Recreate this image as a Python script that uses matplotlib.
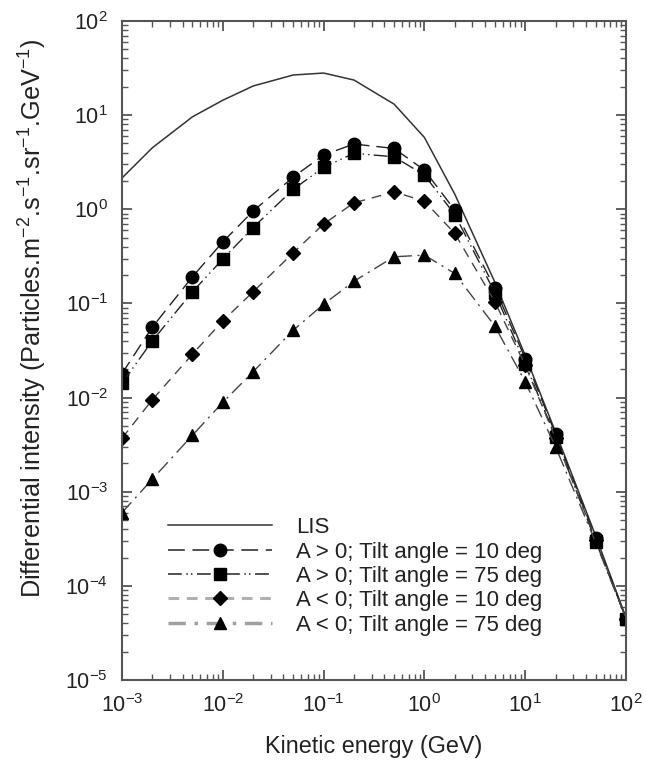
import matplotlib
matplotlib.use("Agg")
import matplotlib.pyplot as plt
from matplotlib.lines import Line2D
from matplotlib.ticker import LogLocator, NullFormatter

plt.rcParams['font.family'] = ['Liberation Sans', 'DejaVu Sans']
plt.rcParams['mathtext.fontset'] = 'custom'
plt.rcParams['mathtext.rm'] = 'Liberation Sans'
plt.rcParams['mathtext.it'] = 'Liberation Sans:italic'
plt.rcParams['mathtext.bf'] = 'Liberation Sans:bold'

# ---- data ----
energy = [0.001, 0.002, 0.005, 0.01, 0.02, 0.05, 0.1, 0.2, 0.5, 1, 2, 5, 10, 20, 50, 100]
lis = [2.15, 4.5, 9.6, 14.4, 20.4, 26.7, 28.0, 23.6, 13.1, 5.8, 1.45, 0.168, 0.028, 0.0043, 3.4e-4, 4.6e-5]
apos_10 = [0.018, 0.056, 0.192, 0.45, 0.957, 2.2, 3.77, 4.93, 4.43, 2.61, 0.98, 0.146, 0.026, 0.0041, 3.2e-4, 4.5e-5]
apos_75 = [0.0142, 0.040, 0.133, 0.296, 0.64, 1.63, 2.79, 3.93, 3.61, 2.31, 0.88, 0.13, 0.023, 0.0038, 3.0e-4, 4.5e-5]
aneg_10 = [0.0037, 0.0095, 0.0289, 0.0653, 0.133, 0.345, 0.697, 1.17, 1.53, 1.22, 0.555, 0.104, 0.022, 0.0037, 3.1e-4, 4.5e-5]
aneg_75 = [6.0e-4, 1.36e-3, 3.98e-3, 8.9e-3, 0.0188, 0.052, 0.098, 0.172, 0.313, 0.326, 0.208, 0.0574, 0.0147, 0.0030, 2.9e-4, 4.5e-5]
labels = ["LIS", "A > 0; Tilt angle = 10 deg", "A > 0; Tilt angle = 75 deg",
          "A < 0; Tilt angle = 10 deg", "A < 0; Tilt angle = 75 deg"]

W, H = 646, 773
fig = plt.figure(figsize=(W / 100, H / 100), dpi=100)
ax = fig.add_axes([122 / W, 1 - 680 / H, (626 - 122) / W, (680 - 21) / H])

ink = '#222222'
ax.plot(energy, lis, color='#333333', lw=1.1, ls='-')
ax.plot(energy, apos_10, color='#222222', lw=1.0, ls=(0, (10, 5)), marker='o', ms=9, mfc='black', mec='black')
ax.plot(energy, apos_75, color='#222222', lw=1.0, ls=(0, (10, 3, 1, 3, 1, 3)), marker='s', ms=8, mfc='black', mec='black')
ax.plot(energy, aneg_10, color='#444444', lw=1.0, ls=(0, (7, 5)), marker='D', ms=7.5, mfc='black', mec='black')
ax.plot(energy, aneg_75, color='#444444', lw=1.0, ls=(0, (10, 4, 1.5, 4)), marker='^', ms=8.5, mfc='black', mec='black')

ax.set_xscale('log')
ax.set_yscale('log')
ax.set_xlim(1e-3, 1e2)
ax.set_ylim(1e-5, 1e2)

ax.xaxis.set_major_locator(LogLocator(base=10, numticks=20))
ax.yaxis.set_major_locator(LogLocator(base=10, numticks=20))
ax.xaxis.set_minor_locator(LogLocator(base=10, subs=range(2, 10), numticks=100))
ax.yaxis.set_minor_locator(LogLocator(base=10, subs=range(2, 10), numticks=100))
ax.xaxis.set_minor_formatter(NullFormatter())
ax.yaxis.set_minor_formatter(NullFormatter())

spine_c = '#555555'
for s in ax.spines.values():
    s.set_color(spine_c)
    s.set_linewidth(1.5)
ax.tick_params(which='both', direction='in', top=True, right=True, colors=spine_c,
               labelcolor=ink, labelsize=15.5)
ax.tick_params(which='major', length=7, width=1.3, pad=10)
ax.tick_params(which='minor', length=4, width=1.0)

ax.set_xlabel("Kinetic energy (GeV)", fontsize=16.8, color=ink, labelpad=13)
ax.set_ylabel(r"Differential intensity (Particles.m$^{-2}$.s$^{-1}$.sr$^{-1}$.GeV$^{-1}$)",
              fontsize=18.2, color=ink)
ax.yaxis.set_label_coords(-0.145, 0.549)

handles = [
    Line2D([], [], color='#333333', lw=1.1, ls='-'),
    Line2D([], [], color='#222222', lw=1.1, ls=(0, (11, 5)), marker='o', ms=9, mfc='black', mec='black'),
    Line2D([], [], color='#222222', lw=1.1, ls=(0, (9, 3, 1, 2, 1, 3)), marker='s', ms=8, mfc='black', mec='black'),
    Line2D([], [], color='#b0b0b0', lw=2.2, ls=(0, (3.5, 2.5)), marker='D', ms=7.5, mfc='black', mec='black'),
    Line2D([], [], color='#a0a0a0', lw=2.5, ls=(0, (5, 2.5, 1, 2.5)), marker='^', ms=8.5, mfc='black', mec='black'),
]
leg = ax.legend(handles, labels, loc='upper left', bbox_to_anchor=(0.091, 0.247),
                frameon=False, fontsize=16, handlelength=4.7, handletextpad=1.05,
                labelspacing=0.15, borderpad=0, borderaxespad=0)
for t in leg.get_texts():
    t.set_color(ink)

fig.savefig("out.png", dpi=100)
